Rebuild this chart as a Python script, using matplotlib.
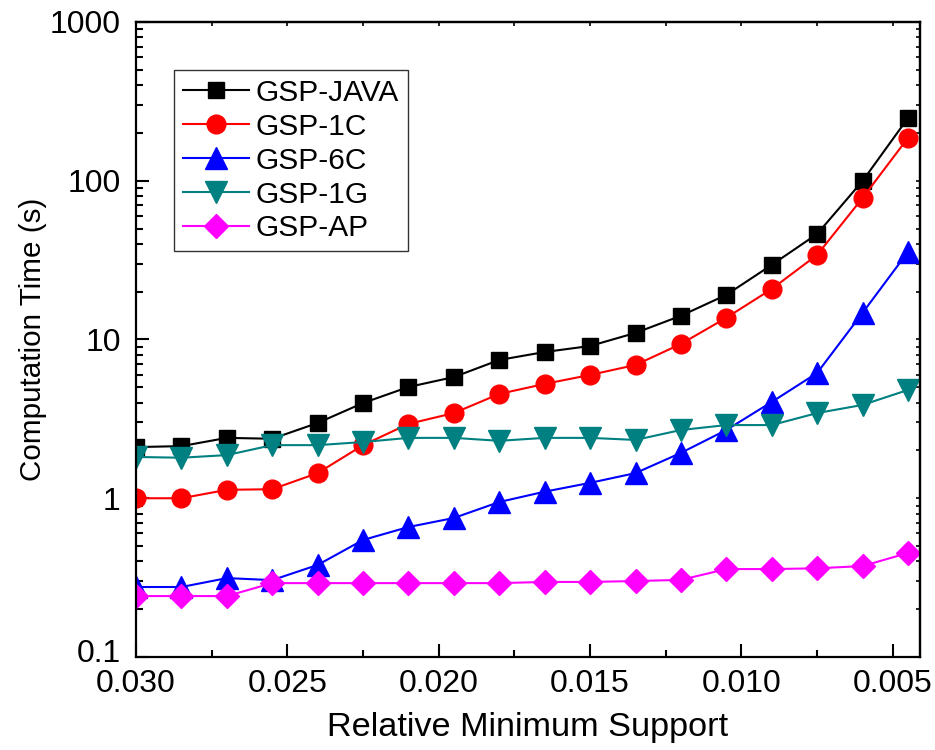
import matplotlib
matplotlib.use("Agg")
import matplotlib.pyplot as plt
from matplotlib.ticker import MultipleLocator, FixedLocator, LogLocator, NullFormatter
from matplotlib.transforms import ScaledTranslation

plt.rcParams['font.family'] = ['Liberation Sans', 'DejaVu Sans']

# relative minimum support (x axis runs from high to low)
support = [0.0300, 0.0285, 0.0270, 0.0255, 0.0240, 0.0225, 0.0210, 0.0195, 0.0180,
           0.0165, 0.0150, 0.0135, 0.0120, 0.0105, 0.0090, 0.0075, 0.0060, 0.0045]

# computation time in seconds
gsp_java = [2.10, 2.13, 2.40, 2.37, 2.98, 3.98, 5.02, 5.80, 7.43,
            8.34, 9.10, 11.0, 14.1, 19.1, 29.5, 46.2, 99.6, 248]
gsp_1c = [1.00, 1.00, 1.13, 1.14, 1.44, 2.16, 2.94, 3.44, 4.54,
          5.25, 5.98, 6.91, 9.37, 13.7, 20.8, 34.1, 77.8, 186]
gsp_6c = [0.276, 0.276, 0.314, 0.305, 0.380, 0.546, 0.659, 0.751, 0.947,
          1.10, 1.25, 1.44, 1.93, 2.69, 4.04, 6.15, 14.7, 35.6]
gsp_1g = [1.82, 1.80, 1.87, 2.16, 2.16, 2.26, 2.40, 2.40, 2.30,
          2.40, 2.40, 2.33, 2.69, 2.89, 2.89, 3.44, 3.87, 4.81]
gsp_ap = [0.242, 0.242, 0.242, 0.292, 0.292, 0.292, 0.292, 0.292, 0.292,
          0.297, 0.297, 0.301, 0.306, 0.358, 0.358, 0.362, 0.374, 0.452]

x_ticks = [0.030, 0.025, 0.020, 0.015, 0.010, 0.005]
x_labels = ['0.030', '0.025', '0.020', '0.015', '0.010', '0.005']
y_ticks = [0.1, 1, 10, 100, 1000]
y_labels = ['0.1', '1', '10', '100', '1000']

fig = plt.figure(figsize=(9.35, 7.5), dpi=100)
ax = fig.add_axes([0.1455, 0.124, 0.8385, 0.8467])

ax.plot(support, gsp_java, color='black', marker='s', markersize=12, lw=1.5, label='GSP-JAVA')
ax.plot(support, gsp_1c, color='red', marker='o', markersize=13.5, lw=1.5, label='GSP-1C')
ax.plot(support, gsp_6c, color='blue', marker='^', markersize=16, lw=1.5, label='GSP-6C')
ax.plot(support, gsp_1g, color='#008080', marker='v', markersize=16, lw=1.5, label='GSP-1G')
ax.plot(support, gsp_ap, color='magenta', marker='D', markersize=12, lw=1.5, label='GSP-AP')

ax.set_yscale('log')
ax.set_ylim(0.1, 1000)
ax.set_xlim(0.030, 0.0041)

ax.xaxis.set_major_locator(FixedLocator(x_ticks))
ax.xaxis.set_minor_locator(MultipleLocator(0.0025))
ax.set_xticklabels(x_labels)
ax.yaxis.set_major_locator(FixedLocator(y_ticks))
ax.set_yticklabels(y_labels)
ax.yaxis.set_minor_locator(LogLocator(base=10, subs=range(2, 10)))
ax.yaxis.set_minor_formatter(NullFormatter())

ax.tick_params(which='both', direction='in', width=1.5)
ax.tick_params(which='major', length=9.5, labelsize=23)
ax.tick_params(which='minor', length=5)
ax.tick_params(axis='x', which='major', pad=9)
ax.tick_params(axis='y', which='major', pad=11)
for s in ax.spines.values():
    s.set_linewidth(1.6)

# lift the bottom y label a little so it clears the first x label
lowest = ax.get_yticklabels()[0]
lowest.set_transform(lowest.get_transform() + ScaledTranslation(0, 5 / 72, fig.dpi_scale_trans))

# short mirrored ticks on the top and right edges
top = ax.secondary_xaxis('top')
top.xaxis.set_major_locator(FixedLocator(x_ticks))
top.xaxis.set_minor_locator(MultipleLocator(0.0025))
top.tick_params(which='both', direction='in', length=3, width=1.2, labeltop=False)
top.spines['top'].set_linewidth(1.6)

right = ax.secondary_yaxis('right')
right.yaxis.set_major_locator(FixedLocator(y_ticks))
right.yaxis.set_minor_locator(LogLocator(base=10, subs=range(2, 10)))
right.tick_params(which='both', direction='in', length=3, width=1.2, labelright=False)
right.spines['right'].set_linewidth(1.6)

ax.set_xlabel('Relative Minimum Support', fontsize=24.7, labelpad=9)
ax.set_ylabel('Computation Time (s)', fontsize=21.3, labelpad=2)

leg = ax.legend(loc='upper left', bbox_to_anchor=(0.049, 0.924), fontsize=21.5,
                frameon=True, fancybox=False, edgecolor='black', handlelength=2.2,
                handletextpad=0.25, labelspacing=0.2, borderpad=0.28, borderaxespad=0)
leg.get_frame().set_linewidth(1.0)

fig.savefig('out.png', dpi=100)
